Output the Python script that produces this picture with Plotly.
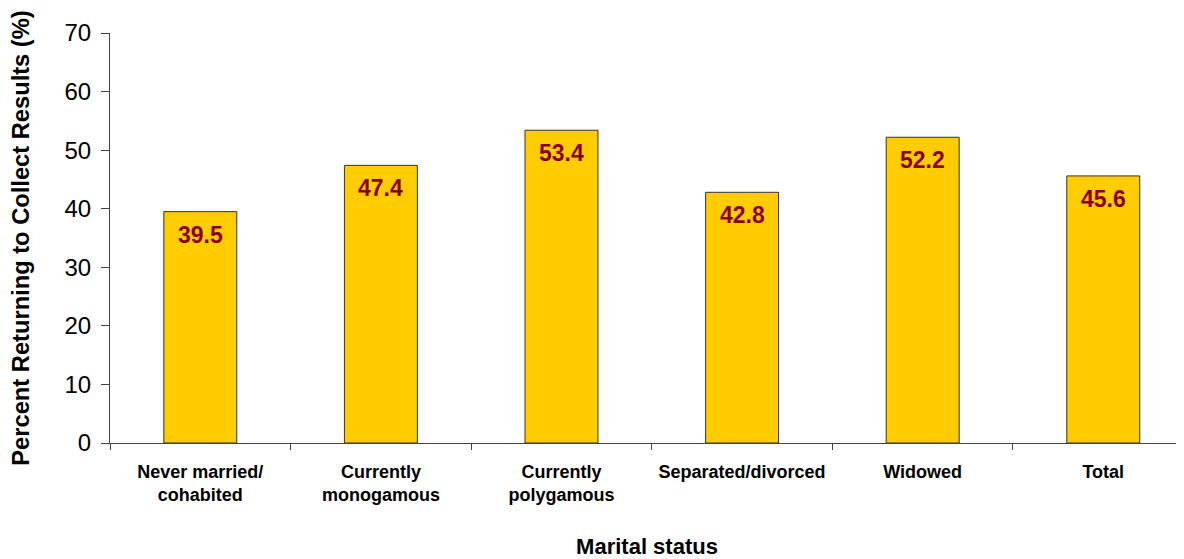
import plotly.graph_objects as go

categories = ["Never married/<br>cohabited", "Currently<br>monogamous", "Currently<br>polygamous",
              "Separated/divorced", "Widowed", "Total"]
values = [39.5, 47.4, 53.4, 42.8, 52.2, 45.6]
value_labels = ["39.5", "47.4", "53.4", "42.8", "52.2", "45.6"]
y_ticks = [0, 10, 20, 30, 40, 50, 60, 70]

FONT = "Liberation Sans, Arial, sans-serif"

fig = go.Figure()
fig.add_trace(go.Bar(
    x=categories, y=values, width=0.404,
    marker=dict(color="#FFCC00", line=dict(color="#333333", width=1)),
    hoverinfo="skip",
))

for c, v, t in zip(categories, values, value_labels):
    fig.add_annotation(x=c, y=v, xref="x", yref="y", text=f"<b>{t}</b>", showarrow=False,
                       yanchor="middle", yshift=-23,
                       font=dict(family=FONT, size=23, color="#8B0000"))

fig.update_layout(
    width=1176, height=551,
    margin=dict(l=102, r=0, t=25, b=116),
    paper_bgcolor="white", plot_bgcolor="white",
    showlegend=False,
    font=dict(family=FONT, color="black"),
    bargap=0.6,
)
fig.update_xaxes(
    type="category", range=[-0.5, 5.447], automargin=False,
    showline=True, linecolor="#444444", linewidth=1,
    ticks="outside", tickson="boundaries", ticklen=6, tickcolor="#444444",
    tickfont=dict(family=FONT, size=18, color="black"),
    tickprefix="<b>", ticksuffix="</b>",
    ticklabelstandoff=12,
    showgrid=False, zeroline=False,
    title=dict(text="<b>Marital status</b>", font=dict(family=FONT, size=22, color="black"), standoff=46),
)
fig.update_yaxes(
    range=[0, 70], tickvals=y_ticks, automargin=False,
    showline=True, linecolor="#444444", linewidth=1,
    ticks="outside", ticklen=8, tickcolor="#444444",
    tickfont=dict(family=FONT, size=24, color="black"),
    ticklabelstandoff=5,
    showgrid=False, zeroline=False,
    title=dict(text="<b>Percent Returning to Collect Results (%)</b>",
               font=dict(family=FONT, size=23.7, color="black"), standoff=28),
)

fig.write_html("out.html")
